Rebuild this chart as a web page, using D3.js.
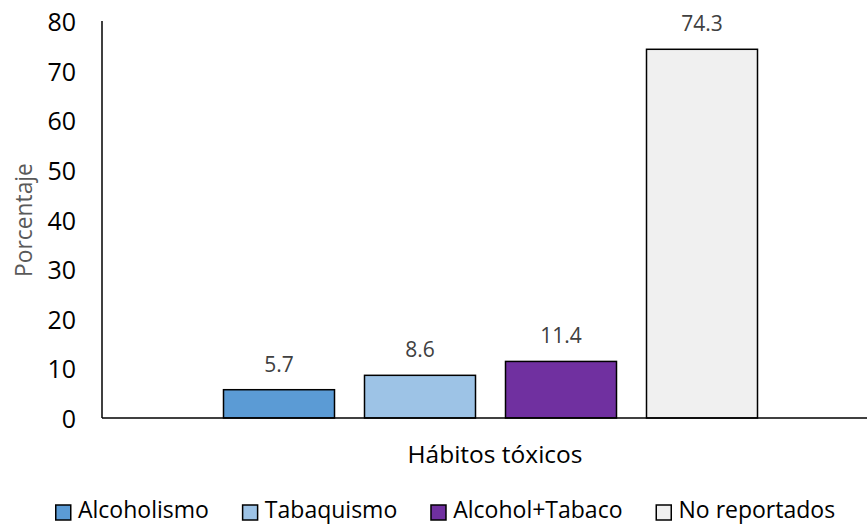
<!DOCTYPE html>
<html>
<head>
<meta charset="utf-8">
<script src="https://cdn.jsdelivr.net/npm/d3@7"></script>
<style>
  html, body { margin: 0; padding: 0; background: #fff; }
  svg { display: block; }
  text { font-family: "Open Sans", sans-serif; }
</style>
</head>
<body>
<svg id="chart" width="867" height="527"></svg>
<script>
const categories = ["Alcoholismo", "Tabaquismo", "Alcohol+Tabaco", "No reportados"];
const values = [5.7, 8.6, 11.4, 74.3];
const colors = ["#5B9BD5", "#9DC3E6", "#7030A0", "#F0F0F0"];
const yTicks = [0, 10, 20, 30, 40, 50, 60, 70, 80];
const xTitle = "Hábitos tóxicos";
const yTitle = "Porcentaje";

const svg = d3.select("#chart");
const axisX = 102, baseY = 418, topY = 21, rightX = 867;

const y = d3.scaleLinear().domain([0, 80]).range([baseY, topY]);
const x = d3.scaleBand().domain(categories).range([208.5, 772.5])
  .paddingInner(30 / 141).paddingOuter(15 / 141);

// y tick labels
svg.append("g").selectAll("text").data(yTicks).join("text")
  .attr("x", 76).attr("y", d => y(d))
  .attr("text-anchor", "end").attr("dominant-baseline", "central")
  .attr("font-size", 25).attr("fill", "#000")
  .text(d => d);

// bars
svg.append("g").selectAll("rect").data(values).join("rect")
  .attr("x", (d, i) => x(categories[i]))
  .attr("y", d => y(d))
  .attr("width", x.bandwidth())
  .attr("height", d => baseY - y(d))
  .attr("fill", (d, i) => colors[i])
  .attr("stroke", "#000").attr("stroke-width", 1.5);

// data labels
svg.append("g").selectAll("text").data(values).join("text")
  .attr("x", (d, i) => x(categories[i]) + x.bandwidth() / 2)
  .attr("y", d => y(d) - 18)
  .attr("text-anchor", "middle")
  .attr("font-size", 21).attr("fill", "#404040")
  .text(d => d.toFixed(1));

// axes lines
svg.append("line").attr("x1", axisX).attr("x2", axisX).attr("y1", topY).attr("y2", baseY)
  .attr("stroke", "#000").attr("stroke-width", 1.5);
svg.append("line").attr("x1", axisX).attr("x2", rightX).attr("y1", baseY).attr("y2", baseY)
  .attr("stroke", "#000").attr("stroke-width", 1.5);

// axis titles
svg.append("text").attr("x", 495).attr("y", 463).attr("text-anchor", "middle")
  .attr("font-size", 24.5).attr("fill", "#000").text(xTitle);
svg.append("text").attr("transform", "translate(32,220) rotate(-90)")
  .attr("text-anchor", "middle").attr("font-size", 22.8).attr("fill", "#595959")
  .text(yTitle);

// legend
const leg = svg.append("g");
let lx = 55;
categories.forEach((c, i) => {
  leg.append("rect").attr("x", lx + 0.75).attr("y", 505).attr("width", 15).attr("height", 15)
    .attr("fill", colors[i]).attr("stroke", "#000").attr("stroke-width", 1.5);
  const t = leg.append("text").attr("x", lx + 23).attr("y", 518)
    .attr("font-size", 23).attr("fill", "#000").text(c);
  lx = lx + 23 + t.node().getComputedTextLength() + 33;
});
</script>
</body>
</html>
